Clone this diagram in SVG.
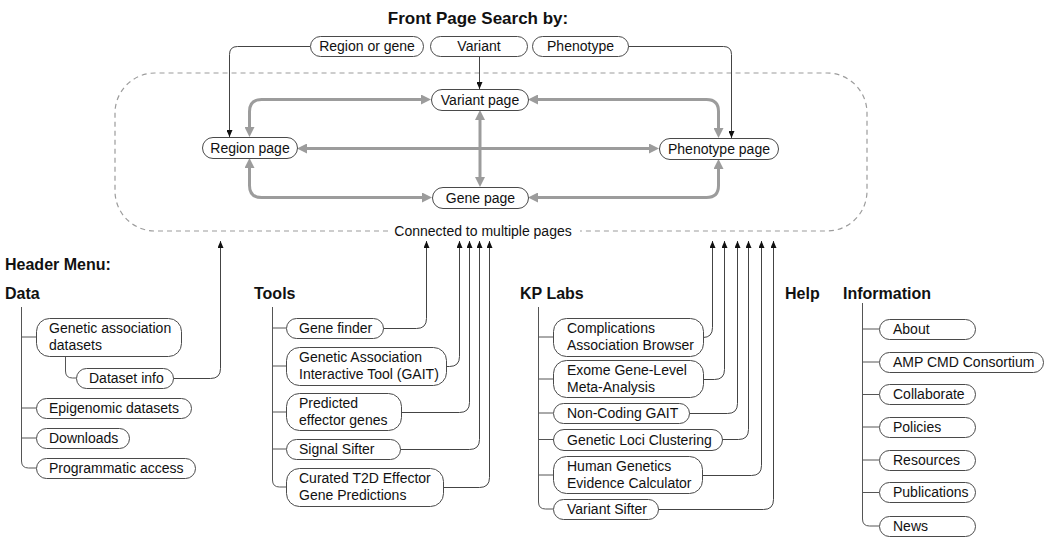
<svg xmlns="http://www.w3.org/2000/svg" width="1050" height="546" viewBox="0 0 1050 546">
<defs>
<style>
text{font-family:"Liberation Sans",Arial,sans-serif;fill:#111;}
.t{font-size:14px;}
.tc{font-size:14px;text-anchor:middle;}
.h{font-size:16px;font-weight:bold;}
.title{font-size:17px;font-weight:bold;text-anchor:middle;}
.pill{fill:#fff;stroke:#4a4a4a;stroke-width:1;}
.g{fill:none;stroke:#9c9c9c;stroke-width:3;marker-start:url(#ga);marker-end:url(#ga);}
.k{fill:none;stroke:#444;stroke-width:1;marker-end:url(#ka);}
.tree{fill:none;stroke:#555;stroke-width:1;}
.dash{fill:none;stroke:#9c9c9c;stroke-width:1.2;stroke-dasharray:5 4;}
</style>
<marker id="ga" viewBox="0 0 10 10" refX="2" refY="5" markerWidth="10" markerHeight="10" markerUnits="userSpaceOnUse" orient="auto-start-reverse"><path d="M0,0 L10,5 L0,10 z" fill="#9c9c9c"/></marker>
<marker id="ka" viewBox="0 0 7 6" refX="7" refY="3" markerWidth="7" markerHeight="6" markerUnits="userSpaceOnUse" orient="auto"><path d="M0,0 L7,3 L0,6 z" fill="#111"/></marker>
</defs>
<rect width="1050" height="546" fill="#fff"/>

<text class="title" x="478" y="24">Front Page Search by:</text>

<g id="connectors">
<path class="dash" d="M388 231 H155 A40 40 0 0 1 115 191 V113 A40 40 0 0 1 155 73 H827 A40 40 0 0 1 867 113 V191 A40 40 0 0 1 827 231 H580"/>
<path class="g" d="M305 148.5 H651"/>
<path class="g" d="M480 118 V179"/>
<path class="g" d="M249.5 129 V111.5 Q249.5 99.5 261.5 99.5 H423"/>
<path class="g" d="M536 99.5 H706.5 Q718.5 99.5 718.5 111.5 V130"/>
<path class="g" d="M249.5 166 V185.5 Q249.5 197.5 261.5 197.5 H424"/>
<path class="g" d="M536 197.5 H706.5 Q718.5 197.5 718.5 185.5 V167"/>
<path class="k" d="M310 46.5 H237.5 Q229.5 46.5 229.5 54.5 V137"/>
<path class="k" d="M479.5 56 V89"/>
<path class="k" d="M628 46.5 H723.5 Q731.5 46.5 731.5 54.5 V138"/>

<path class="tree" d="M21.5 307 V461 Q21.5 468 28.5 468 H36 M21.5 337 H36 M21.5 408 H36 M21.5 438 H36"/>
<path class="tree" d="M65.5 356 V371 Q65.5 378 72.5 378 H76"/>
<path class="k" d="M173 378.5 H210.5 Q220.5 378.5 220.5 368.5 V241"/>

<path class="tree" d="M272.5 307 V480 Q272.5 487 279.5 487 H286 M272.5 328 H286 M272.5 366 H286 M272.5 412 H286 M272.5 449 H286"/>
<path class="k" d="M383 328.5 H416.5 Q426.5 328.5 426.5 318.5 V241"/>
<path class="k" d="M446 366.5 H449.5 Q459.5 366.5 459.5 356.5 V241"/>
<path class="k" d="M401 412.5 H459.5 Q469.5 412.5 469.5 402.5 V241"/>
<path class="k" d="M400 449.5 H469.5 Q479.5 449.5 479.5 439.5 V241"/>
<path class="k" d="M443 487.5 H479.5 Q489.5 487.5 489.5 477.5 V241"/>

<path class="tree" d="M538.5 307 V502 Q538.5 509 545.5 509 H553 M538.5 337 H553 M538.5 379 H553 M538.5 413 H553 M538.5 439.5 H553 M538.5 475 H553"/>
<path class="k" d="M703 337.5 Q712.5 337.5 712.5 327.5 V241"/>
<path class="k" d="M703 379.5 H714.5 Q724.5 379.5 724.5 369.5 V241"/>
<path class="k" d="M689 413.5 H727.5 Q737.5 413.5 737.5 403.5 V241"/>
<path class="k" d="M722 439.5 H738.5 Q748.5 439.5 748.5 429.5 V241"/>
<path class="k" d="M702 475.5 H751.5 Q761.5 475.5 761.5 465.5 V241"/>
<path class="k" d="M658 509.5 H763.5 Q773.5 509.5 773.5 499.5 V241"/>

<path class="tree" d="M862.5 303 V519 Q862.5 526 869.5 526 H879 M862.5 329 H879 M862.5 362 H879 M862.5 394.5 H879 M862.5 427 H879 M862.5 460 H879 M862.5 492.5 H879"/>
</g>

<text class="tc" x="483" y="236">Connected to multiple pages</text>

<g id="search-region"><rect class="pill" x="310.5" y="36.5" width="113" height="20" rx="10"/><text class="tc" x="367" y="51">Region or gene</text></g>
<g id="search-variant"><rect class="pill" x="430.5" y="36.5" width="97" height="20" rx="10"/><text class="tc" x="479" y="51">Variant</text></g>
<g id="search-phenotype"><rect class="pill" x="532.5" y="36.5" width="96" height="20" rx="10"/><text class="tc" x="580.5" y="51">Phenotype</text></g>

<g id="variant-page"><rect class="pill" x="431.5" y="89.5" width="97" height="21" rx="10.5"/><text class="tc" x="480" y="105">Variant page</text></g>
<g id="region-page"><rect class="pill" x="202.5" y="137.5" width="95" height="21" rx="10.5"/><text class="tc" x="250" y="153">Region page</text></g>
<g id="phenotype-page"><rect class="pill" x="659.5" y="138.5" width="119" height="21" rx="10.5"/><text class="tc" x="719" y="154">Phenotype page</text></g>
<g id="gene-page"><rect class="pill" x="432.5" y="187.5" width="96" height="21" rx="10.5"/><text class="tc" x="480.5" y="203">Gene page</text></g>

<text class="h" x="5" y="270">Header Menu:</text>
<text class="h" x="5" y="299">Data</text>
<text class="h" x="254" y="299">Tools</text>
<text class="h" x="520" y="299">KP Labs</text>
<text class="h" x="785" y="299">Help</text>
<text class="h" x="843" y="299">Information</text>

<g id="data-ga"><rect class="pill" x="36.5" y="318.5" width="145" height="38" rx="13"/><text class="t" x="49" y="333">Genetic association</text><text class="t" x="49" y="350">datasets</text></g>
<g id="data-info"><rect class="pill" x="76.5" y="368.5" width="97" height="20" rx="10"/><text class="t" x="89" y="383">Dataset info</text></g>
<g id="data-epi"><rect class="pill" x="36.5" y="398.5" width="155" height="20" rx="10"/><text class="t" x="49" y="413">Epigenomic datasets</text></g>
<g id="data-dl"><rect class="pill" x="36.5" y="428.5" width="93" height="20" rx="10"/><text class="t" x="49" y="443">Downloads</text></g>
<g id="data-prog"><rect class="pill" x="36.5" y="458.5" width="159" height="20" rx="10"/><text class="t" x="49" y="473">Programmatic access</text></g>

<g id="tools-gf"><rect class="pill" x="286.5" y="318.5" width="97" height="20" rx="10"/><text class="t" x="299" y="333">Gene finder</text></g>
<g id="tools-gait"><rect class="pill" x="286.5" y="347.5" width="160" height="38" rx="13"/><text class="t" x="299" y="362">Genetic Association</text><text class="t" x="299" y="379">Interactive Tool (GAIT)</text></g>
<g id="tools-peg"><rect class="pill" x="286.5" y="393.5" width="115" height="37" rx="13"/><text class="t" x="299" y="408">Predicted</text><text class="t" x="299" y="425">effector genes</text></g>
<g id="tools-ss"><rect class="pill" x="286.5" y="439.5" width="114" height="20" rx="10"/><text class="t" x="299" y="454">Signal Sifter</text></g>
<g id="tools-t2d"><rect class="pill" x="286.5" y="468.5" width="157" height="38" rx="13"/><text class="t" x="299" y="483">Curated T2D Effector</text><text class="t" x="299" y="500">Gene Predictions</text></g>

<g id="kp-cab"><rect class="pill" x="553.5" y="318.5" width="150" height="38" rx="13"/><text class="t" x="567" y="333">Complications</text><text class="t" x="567" y="350">Association Browser</text></g>
<g id="kp-exome"><rect class="pill" x="553.5" y="360.5" width="150" height="37" rx="13"/><text class="t" x="567" y="375">Exome Gene-Level</text><text class="t" x="567" y="392">Meta-Analysis</text></g>
<g id="kp-ncgait"><rect class="pill" x="553.5" y="403.5" width="136" height="20" rx="10"/><text class="t" x="567" y="418">Non-Coding GAIT</text></g>
<g id="kp-glc"><rect class="pill" x="553.5" y="429.5" width="169" height="21" rx="10.5"/><text class="t" x="567" y="445">Genetic Loci Clustering</text></g>
<g id="kp-hgec"><rect class="pill" x="553.5" y="456.5" width="149" height="37" rx="13"/><text class="t" x="567" y="471">Human Genetics</text><text class="t" x="567" y="488">Evidence Calculator</text></g>
<g id="kp-vs"><rect class="pill" x="553.5" y="499.5" width="105" height="20" rx="10"/><text class="t" x="567" y="514">Variant Sifter</text></g>

<g id="info-about"><rect class="pill" x="879.5" y="319.5" width="96" height="20" rx="10"/><text class="t" x="893" y="334">About</text></g>
<g id="info-amp"><rect class="pill" x="879.5" y="352.5" width="164" height="20" rx="10"/><text class="t" x="893" y="367">AMP CMD Consortium</text></g>
<g id="info-collab"><rect class="pill" x="879.5" y="384.5" width="96" height="20" rx="10"/><text class="t" x="893" y="399">Collaborate</text></g>
<g id="info-pol"><rect class="pill" x="879.5" y="417.5" width="96" height="20" rx="10"/><text class="t" x="893" y="432">Policies</text></g>
<g id="info-res"><rect class="pill" x="879.5" y="450.5" width="96" height="20" rx="10"/><text class="t" x="893" y="465">Resources</text></g>
<g id="info-pub"><rect class="pill" x="879.5" y="482.5" width="96" height="20" rx="10"/><text class="t" x="893" y="497">Publications</text></g>
<g id="info-news"><rect class="pill" x="879.5" y="516.5" width="96" height="20" rx="10"/><text class="t" x="893" y="531">News</text></g>
</svg>
